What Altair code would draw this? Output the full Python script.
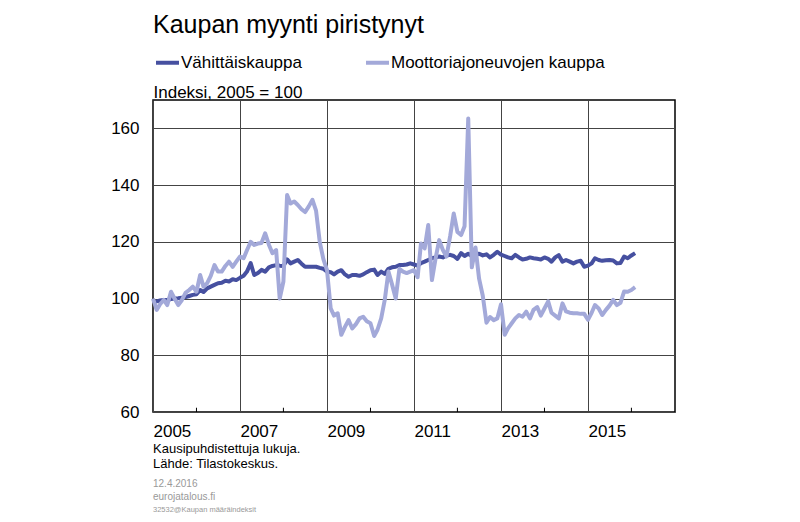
import altair as alt
import pandas as pd

# Monthly data Jan 2005 - Feb 2016 (index 2005 = 100)
start = "2005-01-01"
n_months = 134

retail = [
    98.9, 99.0, 99.3, 99.5, 99.5, 99.8, 100.0, 100.1, 100.3, 100.5, 100.9, 101.3,
    101.5, 103.0, 102.3, 103.6, 104.2, 104.8, 105.4, 105.6, 106.3, 106.0, 106.8, 106.5,
    107.3, 108.0, 109.5, 112.5, 108.3, 109.0, 110.1, 109.5, 111.0, 111.5, 111.8, 111.6,
    111.5, 113.8, 112.4, 113.0, 113.6, 112.3, 111.2, 111.2, 111.2, 111.2, 110.8, 110.5,
    109.5, 109.3, 108.5, 109.5, 110.0, 108.5, 107.7, 108.3, 108.3, 108.0, 108.5, 109.3,
    110.0, 110.2, 108.3, 109.5, 108.7, 110.5, 111.0, 111.2, 111.8, 111.8, 112.0, 112.4,
    112.0, 111.6, 112.5, 113.0, 113.6, 114.2, 114.5, 114.8, 114.5, 115.2, 115.4, 115.0,
    114.0, 116.0, 115.0, 115.8, 115.0, 115.4, 115.8, 115.2, 115.6, 114.5, 115.4, 116.5,
    115.5, 115.0, 114.5, 114.2, 115.4, 114.5, 113.8, 114.0, 114.5, 114.2, 114.0, 113.8,
    114.5, 114.0, 113.0, 114.5, 115.3, 113.0, 113.6, 113.0, 112.4, 113.0, 113.3, 111.2,
    111.6, 112.4, 114.2, 113.6, 113.3, 113.5, 113.6, 113.4, 112.4, 112.5, 114.8, 114.2,
    115.2, 116.0,
]

motor = [
    100.0, 96.0, 98.0, 99.5, 97.7, 102.4, 100.0, 97.7, 99.5, 102.0, 103.0, 104.2,
    102.4, 108.3, 104.2, 105.4, 108.0, 111.8, 109.5, 109.5, 111.5, 113.0, 111.2, 113.0,
    114.8, 114.2, 117.0, 120.0, 118.9, 119.4, 119.6, 123.0, 119.0, 116.0, 117.1, 100.0,
    106.0, 136.5, 133.5, 134.2, 133.0, 131.5, 130.5, 132.5, 134.8, 131.0, 120.0, 114.0,
    110.0, 96.5, 94.0, 94.8, 87.2, 90.0, 92.4, 89.5, 91.0, 93.0, 93.6, 92.0,
    91.3, 86.8, 89.0, 93.0, 99.5, 109.5, 105.0, 100.0, 110.5, 109.5, 109.0, 109.5,
    110.0, 107.5, 119.4, 117.7, 125.9, 106.5, 114.0, 120.6, 117.1, 114.8, 122.0, 130.0,
    123.5, 122.4, 125.5, 163.5, 111.0, 118.0, 107.0, 101.0, 91.5, 93.5, 92.4, 93.0,
    98.0, 87.2, 89.5, 91.3, 93.0, 94.2, 93.6, 95.4, 93.0, 96.0, 97.0, 94.0,
    96.5, 99.0, 95.0, 94.0, 93.0, 98.3, 95.5, 95.0, 94.8, 94.8, 94.6, 94.6,
    92.5, 95.0, 97.7, 96.5, 94.2, 96.0, 97.5, 99.5, 97.7, 98.5, 102.5, 102.4,
    103.0, 104.0,
]

series_names = ["Vähittäiskauppa", "Moottoriajoneuvojen kauppa"]
series_colors = ["#4650A0", "#A3A9D9"]

title_text = "Kaupan myynti piristynyt"
y_title = "Indeksi, 2005 = 100"
notes_text = "Kausipuhdistettuja lukuja.\nLähde: Tilastokeskus."
meta_text = "12.4.2016\neurojatalous.fi"
code_text = "32532@Kaupan määräindeksit"

major_years = ["2005-01-01", "2007-01-01", "2009-01-01", "2011-01-01", "2013-01-01", "2015-01-01"]
minor_years = ["2006-01-01", "2008-01-01", "2010-01-01", "2012-01-01", "2014-01-01", "2016-01-01"]
y_ticks = [60, 80, 100, 120, 140, 160]

FONT = "Liberation Sans"

dates = pd.date_range(start, periods=n_months, freq="MS")
df = pd.concat([
    pd.DataFrame({"date": dates, "value": retail, "series": series_names[0]}),
    pd.DataFrame({"date": dates, "value": motor, "series": series_names[1]}),
])

x_scale = alt.Scale(domain=["2005-01-01", "2017-01-01"])
y_scale = alt.Scale(domain=[60, 170], nice=False, zero=False)

lines = alt.Chart(df).mark_line(strokeWidth=4, strokeJoin="round").encode(
    x=alt.X("date:T", scale=x_scale, title=None,
            axis=alt.Axis(values=[pd.Timestamp(d).isoformat() for d in major_years],
                          format="%Y", labelAlign="left", labelBaseline="top",
                          labelPadding=11, ticks=False, grid=True, gridColor="#444444",
                          gridWidth=1, domain=False, labelFontSize=17, labelFont=FONT,
                          labelColor="#000000", labelFlush=False)),
    y=alt.Y("value:Q", scale=y_scale, title=y_title,
            axis=alt.Axis(values=y_ticks, ticks=False, grid=True, gridColor="#444444",
                          gridWidth=1, domain=False, labelFontSize=17, labelFont=FONT,
                          labelColor="#000000", labelPadding=14,
                          titleAngle=0, titleAlign="left", titleBaseline="alphabetic",
                          titleX=0, titleY=-3, titleFont=FONT, titleFontSize=17,
                          titleFontWeight="normal", titleColor="#000000")),
    color=alt.Color("series:N",
                    scale=alt.Scale(domain=series_names, range=series_colors),
                    sort=series_names,
                    legend=alt.Legend(title=None, orient="none", direction="horizontal",
                                      legendX=1, legendY=-51, symbolType="stroke",
                                      symbolSize=529, symbolStrokeWidth=4,
                                      labelFontSize=17, labelFont=FONT, labelColor="#000000",
                                      labelOffset=0, columnPadding=56, padding=0,
                                      labelLimit=400)),
    order=alt.Order("series_order:Q"),
).transform_calculate(
    series_order="datum.series == 'Vähittäiskauppa' ? 1 : 0"
)

minor_df = pd.DataFrame({"date": pd.to_datetime(minor_years)})
minor_ticks = alt.Chart(minor_df).mark_rule(color="#000000", strokeWidth=1).encode(
    x=alt.X("date:T", scale=x_scale),
    y=alt.datum(60),
    y2=alt.datum(61.5),
)

def text_layer(txt, y, size, color, line_height=None):
    kw = dict(align="left", baseline="alphabetic", font=FONT, fontSize=size, color=color)
    if line_height is not None:
        kw["lineBreak"] = "\n"
        kw["lineHeight"] = line_height
    return alt.Chart(pd.DataFrame({"t": [txt]})).mark_text(**kw).encode(
        text="t:N", x=alt.value(0), y=alt.value(y))

title = text_layer(title_text, -67, 25, "#000000")
notes = text_layer(notes_text, 353, 13, "#000000", 15)
meta = text_layer(meta_text, 387, 10, "#999999", 12.6)
code = text_layer(code_text, 412, 7.5, "#999999")

chart = alt.layer(lines, minor_ticks, title, notes, meta, code).properties(
    width=522, height=312,
    padding={"left": 145, "top": 92, "right": 117, "bottom": 102},
    autosize=alt.AutoSizeParams(type="none"),
    background="#ffffff",
).configure_view(
    stroke="#000000", strokeWidth=1.5
)

chart.save("out.html", embed_options={"renderer": "svg", "actions": False})
